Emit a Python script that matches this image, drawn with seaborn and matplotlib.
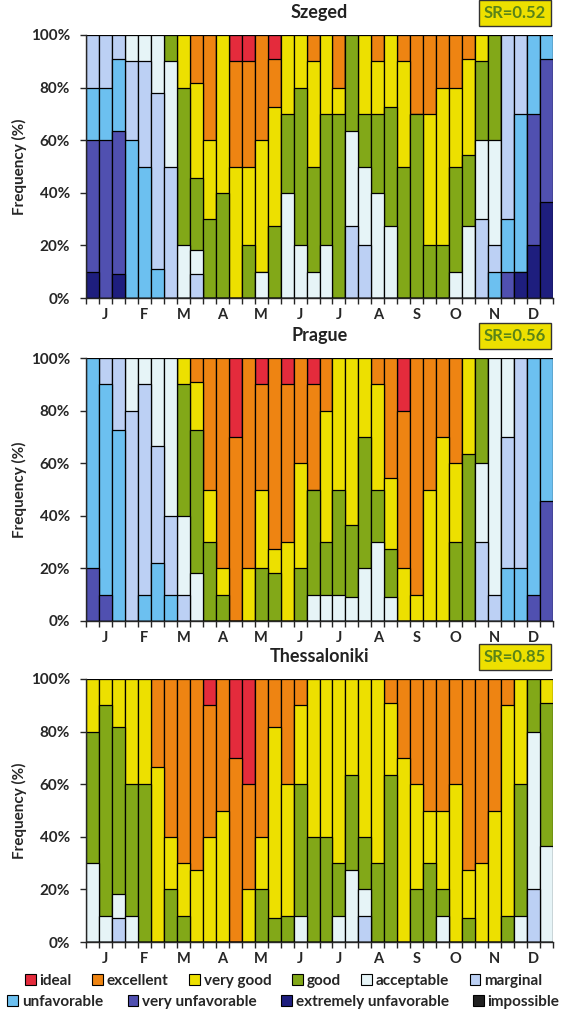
import pandas as pd
import matplotlib
matplotlib.use('Agg')
import matplotlib.pyplot as plt
import seaborn as sns
from matplotlib.patches import Patch

# climate classes, bottom of the stack first
categories = ['impossible', 'extremely unfavorable', 'very unfavorable', 'unfavorable',
              'marginal', 'acceptable', 'good', 'very good', 'excellent', 'ideal']
cat_colors = ['#202020', '#1E1E7E', '#5050B0', '#6CC0F0', '#BCD0F4',
              '#E6F4F7', '#82A818', '#EDE000', '#EE8412', '#E42B3C']
months = ['J', 'F', 'M', 'A', 'M', 'J', 'J', 'A', 'S', 'O', 'N', 'D']
periods = list(range(36))   # 10-day periods, 3 per month

# Szeged - share (%) of each class in every 10-day period
sz_ext = [10, 0, 9.1, 0, 0, 0, 0, 0, 0, 0, 0, 0, 0, 0, 0, 0, 0, 0,
          0, 0, 0, 0, 0, 0, 0, 0, 0, 0, 0, 0, 0, 0, 0, 10, 20, 36.4]
sz_vunf = [50, 60, 54.5, 0, 0, 0, 0, 0, 0, 0, 0, 0, 0, 0, 0, 0, 0, 0,
           0, 0, 0, 0, 0, 0, 0, 0, 0, 0, 0, 0, 0, 0, 10, 0, 50, 54.5]
sz_unf = [20, 20, 27.3, 60, 50, 11.1, 0, 0, 0, 0, 0, 0, 0, 0, 0, 0, 0, 0,
          0, 0, 0, 0, 0, 0, 0, 0, 0, 0, 0, 0, 0, 10, 20, 60, 30, 9.1]
sz_marg = [20, 20, 9.1, 30, 40, 66.7, 50, 0, 9.1, 0, 0, 0, 0, 0, 0, 0, 0, 0,
           0, 0, 27.3, 20, 0, 0, 0, 0, 0, 0, 0, 0, 30, 10, 70, 30, 0, 0]
sz_acc = [0, 0, 0, 10, 10, 22.2, 40, 20, 9.1, 0, 0, 0, 0, 10, 0, 40, 20, 10,
          20, 0, 36.3, 30, 40, 27.3, 0, 0, 0, 0, 10, 27.3, 30, 40, 0, 0, 0, 0]
sz_good = [0, 0, 0, 0, 0, 0, 10, 60, 27.3, 30, 40, 0, 20, 0, 27.3, 30, 60, 40,
           50, 70, 36.4, 20, 30, 45.4, 50, 70, 20, 20, 40, 27.2, 30, 40, 0, 0, 0, 0]
sz_vgood = [0, 0, 0, 0, 0, 0, 0, 20, 36.3, 30, 60, 50, 30, 50, 45.4, 30, 20, 40,
            30, 10, 0, 30, 20, 27.3, 40, 0, 50, 60, 30, 36.4, 10, 0, 0, 0, 0, 0]
sz_exc = [0, 0, 0, 0, 0, 0, 0, 0, 18.2, 40, 0, 40, 40, 40, 18.2, 0, 0, 10,
          0, 20, 0, 0, 10, 0, 10, 30, 30, 20, 20, 9.1, 0, 0, 0, 0, 0, 0]
sz_ideal = [0, 0, 0, 0, 0, 0, 0, 0, 0, 0, 0, 10, 10, 0, 9.1, 0, 0, 0,
            0, 0, 0, 0, 0, 0, 0, 0, 0, 0, 0, 0, 0, 0, 0, 0, 0, 0]

# Prague
pr_vunf = [20, 10, 0, 0, 0, 0, 0, 0, 0, 0, 0, 0, 0, 0, 0, 0, 0, 0,
           0, 0, 0, 0, 0, 0, 0, 0, 0, 0, 0, 0, 0, 0, 0, 0, 10, 45.5]
pr_unf = [80, 80, 72.7, 0, 10, 22.2, 10, 0, 0, 0, 0, 0, 0, 0, 0, 0, 0, 0,
          0, 0, 0, 0, 0, 0, 0, 0, 0, 0, 0, 0, 0, 0, 20, 20, 90, 54.5]
pr_marg = [0, 10, 27.3, 80, 80, 44.5, 30, 10, 0, 0, 0, 0, 0, 0, 0, 0, 0, 0,
           0, 0, 0, 0, 0, 0, 0, 0, 0, 0, 0, 0, 30, 10, 50, 80, 0, 0]
pr_acc = [0, 0, 0, 20, 10, 33.3, 60, 30, 18.2, 0, 0, 0, 0, 0, 0, 0, 0, 10,
          10, 10, 9.1, 20, 30, 9.1, 0, 0, 0, 0, 0, 0, 30, 90, 30, 0, 0, 0]
pr_good = [0, 0, 0, 0, 0, 0, 0, 50, 54.5, 30, 10, 0, 0, 20, 18.2, 0, 20, 40,
           20, 40, 27.3, 50, 20, 18.2, 0, 0, 0, 0, 30, 63.6, 40, 0, 0, 0, 0, 0]
pr_vgood = [0, 0, 0, 0, 0, 0, 0, 10, 18.2, 20, 10, 0, 20, 30, 9.1, 30, 40, 0,
            50, 50, 63.6, 30, 40, 27.2, 20, 10, 50, 70, 30, 36.4, 0, 0, 0, 0, 0, 0]
pr_exc = [0, 0, 0, 0, 0, 0, 0, 0, 9.1, 50, 80, 70, 80, 40, 72.7, 60, 40, 40,
          20, 0, 0, 0, 10, 45.5, 60, 90, 50, 30, 40, 0, 0, 0, 0, 0, 0, 0]
pr_ideal = [0, 0, 0, 0, 0, 0, 0, 0, 0, 0, 0, 30, 0, 10, 0, 10, 0, 10,
            0, 0, 0, 0, 0, 0, 20, 0, 0, 0, 0, 0, 0, 0, 0, 0, 0, 0]

# Thessaloniki
th_marg = [0, 0, 9.1, 0, 0, 0, 0, 0, 0, 0, 0, 0, 0, 0, 0, 0, 0, 0,
           0, 0, 0, 10, 0, 0, 0, 0, 0, 0, 0, 0, 0, 0, 0, 0, 20, 0]
th_acc = [30, 10, 9.1, 10, 0, 0, 0, 0, 0, 0, 0, 0, 0, 0, 0, 0, 10, 0,
          0, 10, 27.3, 10, 0, 0, 0, 0, 0, 10, 0, 0, 0, 0, 0, 10, 60, 36.4]
th_good = [50, 80, 63.6, 50, 60, 0, 20, 10, 0, 0, 0, 0, 0, 20, 9.1, 10, 50, 40,
           40, 20, 36.3, 20, 30, 63.6, 0, 20, 30, 10, 0, 9.1, 0, 0, 10, 50, 20, 54.5]
th_vgood = [20, 10, 18.2, 40, 40, 66.7, 20, 20, 27.3, 40, 50, 0, 20, 20, 72.7, 50, 30, 60,
            60, 70, 36.4, 60, 70, 27.3, 70, 40, 20, 30, 60, 18.2, 30, 50, 80, 40, 0, 9.1]
th_exc = [0, 0, 0, 0, 0, 33.3, 60, 70, 72.7, 50, 50, 70, 40, 60, 18.2, 40, 10, 0,
          0, 0, 0, 0, 0, 9.1, 30, 40, 50, 50, 40, 72.7, 70, 50, 10, 0, 0, 0]
th_ideal = [0, 0, 0, 0, 0, 0, 0, 0, 0, 10, 0, 30, 40, 0, 0, 0, 0, 0,
            0, 0, 0, 0, 0, 0, 0, 0, 0, 0, 0, 0, 0, 0, 0, 0, 0, 0]

stations = ['Szeged', 'Prague', 'Thessaloniki']
sr_values = ['SR=0.52', 'SR=0.56', 'SR=0.85']

szeged = {'extremely unfavorable': sz_ext, 'very unfavorable': sz_vunf,
          'unfavorable': sz_unf, 'marginal': sz_marg, 'acceptable': sz_acc,
          'good': sz_good, 'very good': sz_vgood, 'excellent': sz_exc, 'ideal': sz_ideal}
prague = {'very unfavorable': pr_vunf, 'unfavorable': pr_unf, 'marginal': pr_marg,
          'acceptable': pr_acc, 'good': pr_good, 'very good': pr_vgood,
          'excellent': pr_exc, 'ideal': pr_ideal}
thessaloniki = {'marginal': th_marg, 'acceptable': th_acc, 'good': th_good,
                'very good': th_vgood, 'excellent': th_exc, 'ideal': th_ideal}

sns.set_style('ticks')
plt.rcParams['font.family'] = ['Lato', 'DejaVu Sans']
plt.rcParams['font.weight'] = 'bold'
plt.rcParams['axes.linewidth'] = 1.0

fig = plt.figure(figsize=(5.67, 10.14), dpi=100)
left, width = 86 / 567, 467 / 567
tops = [35, 358, 679]
heights = [263, 263, 263]


def draw_panel(ax, shares, title, sr):
    df = pd.DataFrame({c: shares.get(c, [0] * 36) for c in categories})
    df['period'] = periods
    cum = df[categories].cumsum(axis=1)
    # draw the stack from the top class down so lower classes cover the upper ones
    for cat, col in zip(reversed(categories), reversed(cat_colors)):
        sns.barplot(x=df['period'], y=cum[cat], color=col, width=1.0, saturation=1,
                    edgecolor='black', linewidth=0.9, errorbar=None, ax=ax)
    ax.set_ylim(0, 100)
    ax.set_xlim(-0.5, 35.5)
    ax.set_yticks(range(0, 101, 20))
    ax.set_yticklabels([f'{v}%' for v in range(0, 101, 20)], fontsize=11, fontweight='bold')
    ax.set_xticks([1 + 3 * i for i in range(12)])
    ax.set_xticklabels(months, fontsize=10.5, fontweight='bold')
    ax.set_xticks([i - 0.5 for i in range(37)], minor=True)
    ax.tick_params(axis='x', which='major', length=0, pad=7)
    ax.tick_params(axis='x', which='minor', length=4, width=1)
    ax.tick_params(axis='y', length=4.5, width=1, pad=7)
    ax.set_xlabel('')
    ax.set_ylabel('Frequency (%)', fontsize=11, fontweight='bold', labelpad=3)
    ax.set_title(title, fontsize=13, fontweight='bold', pad=12, color='#222222')
    ax.annotate(sr, xy=(1, 1), xycoords='axes fraction', xytext=(-5, 10),
                textcoords='offset points', ha='right', va='bottom',
                fontsize=12, fontweight='bold', color='#5A8418',
                bbox=dict(boxstyle='square,pad=0.28', fc='#EDE000', ec='#333333', lw=1))
    sns.despine(ax=ax)


for name, shares, sr, top, h in zip(stations, [szeged, prague, thessaloniki],
                                    sr_values, tops, heights):
    ax = fig.add_axes([left, 1 - (top + h) / 1014, width, h / 1014])
    draw_panel(ax, shares, name, sr)

handles = [Patch(facecolor=c, edgecolor='black', linewidth=0.8, label=n)
           for n, c in zip(categories, cat_colors)]
row1 = handles[::-1][:6]
row2 = handles[::-1][6:]
leg_kw = dict(frameon=False, handlelength=0.7, handleheight=0.7, handletextpad=0.25,
              borderaxespad=0, prop={'size': 11, 'weight': 'bold'})
fig.legend(handles=row1, ncol=6, loc='center', bbox_to_anchor=(0.5, 1 - 981 / 1014),
           columnspacing=1.35, **leg_kw)
fig.legend(handles=row2, ncol=4, loc='center', bbox_to_anchor=(0.5, 1 - 1002 / 1014),
           columnspacing=1.6, **leg_kw)

fig.savefig('out.png', dpi=100)
